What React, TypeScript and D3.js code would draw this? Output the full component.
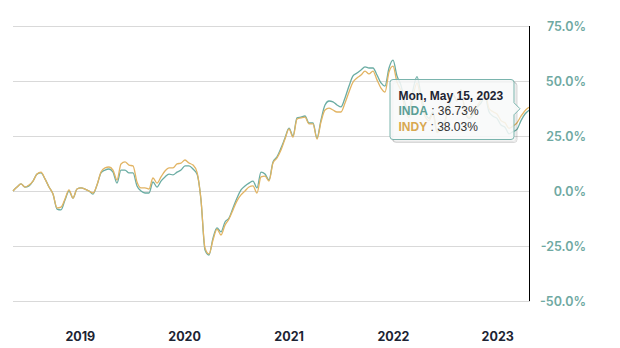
import React from 'react'
import * as d3 from 'd3'

// cumulative % return, sampled every two weeks from the start date
const START = new Date(2018, 5, 4)
const INDA = [
  0, 1.8, 3.2, 1.8, 2.3, 4.5, 7.7, 8.2, 5.5, 1.8,
  -1.4, -8.2, -8.6, -4.1, 0, -3.2, 0.9, 1.4, 0.9, 0,
  -1.4, 2.7, 8.2, 9.5, 10.0, 8.6, 3.6, 9.5, 9.5, 8.2,
  8.2, 2.3, 0, -0.9, -0.9, 4.1, 1.8, 4.5, 6.4, 7.7,
  7.3, 8.6, 9.5, 11.4, 11.4, 10.0, 7.7, -4.1, -26.8, -29.1,
  -21.4, -16.8, -18.6, -14.1, -12.3, -7.7, -3.2, 0.5, 2.3, 3.6,
  4.5, 1.4, 8.6, 7.7, 5.0, 13.2, 15.5, 19.5, 24.1, 28.6,
  25.0, 33.2, 33.6, 34.1, 30.9, 30.9, 24.1, 32.3, 39.1, 40.9,
  40.5, 39.1, 38.2, 42.3, 47.7, 52.3, 53.6, 55.0, 56.4, 55.9,
  55.9, 52.7, 49.1, 47.7, 55.9, 59.5, 52.3, 48, 40, 36,
  46, 52, 44, 36, 33, 36, 27, 29, 32, 39,
  44, 41, 46, 36, 33, 35, 38, 40, 43, 36,
  34, 33, 30, 29, 26, 27, 28, 32, 35, 36.73,
]
const INDY = [
  0, 1.8, 3.2, 1.8, 2.7, 4.5, 7.7, 8.6, 5.5, 1.8,
  -1.4, -7.7, -7.3, -3.6, 0.5, -3.2, 0.9, 1.4, 0.9, 0,
  -0.9, 2.7, 8.6, 10.5, 10.9, 9.5, 5.0, 12.3, 13.2, 11.8,
  11.4, 4.1, 1.4, 1.4, 0.9, 5.9, 3.6, 6.4, 9.1, 10.5,
  10.5, 12.3, 12.7, 14.1, 12.7, 11.8, 8.6, -4.1, -25.9, -28.6,
  -22.3, -17.3, -20.0, -15.5, -12.7, -8.6, -4.5, -1.8, 0, 1.8,
  2.3, -0.9, 6.4, 6.8, 4.5, 12.7, 15.0, 18.6, 23.6, 28.2,
  24.5, 32.7, 33.2, 33.6, 30.5, 30.5, 23.6, 31.4, 36.8, 37.7,
  36.8, 35.9, 35.9, 40.0, 45.0, 49.5, 51.4, 52.7, 54.5, 53.2,
  54.5, 50.5, 46.8, 45.0, 54.1, 56.8, 49.5, 45.5, 37.5, 33.5,
  43, 49, 41.5, 34, 32, 35, 26.5, 28.5, 31.5, 38.5,
  43.5, 41, 46, 36.5, 33.5, 35.5, 38.5, 41.5, 44.5, 37.5,
  36, 35, 32, 31, 28.5, 29.5, 31, 34, 36.5, 38.03,
]
const SERIES = [
  { name: 'INDA', values: INDA, color: '#6aaca3', label: '#5a9f96' },
  { name: 'INDY', values: INDY, color: '#e2b463', label: '#d8a850' },
]
const Y_TICKS = [-50, -25, 0, 25, 50, 75]

const W = 620
const H = 348
const FONT = 'Inter, "Liberation Sans", Arial, sans-serif'
const TIP_FONT = '"Liberation Sans", Arial, Helvetica, sans-serif'

const dates = INDA.map((_, i) => d3.timeDay.offset(START, i * 14))

const x = d3.scaleTime()
  .domain([dates[0], dates[dates.length - 1]])
  .range([13, 529])
const y = d3.scaleLinear()
  .domain([Y_TICKS[0], Y_TICKS[Y_TICKS.length - 1]])
  .range([301, 26])

const pct = d3.formatLocale({
  decimal: '.', thousands: ',', grouping: [3], currency: ['$', ''], minus: '-',
}).format('.1f')
const fmtDate = d3.timeFormat('%a, %b %-d, %Y')

export default function App() {
  const [x0, x1] = x.range()
  const [yMin, yMax] = y.domain()
  const years = x.ticks(d3.timeYear.every(1))
  const last = dates.length - 1
  const lineGen = (vals: number[]) =>
    d3.line<number>()
      .x((_, i) => x(dates[i]))
      .y((v) => y(v))
      .curve(d3.curveMonotoneX)(vals) || ''

  // tooltip anchored at the hovered (last) point
  const ax = x(dates[last])
  const ay = d3.mean(SERIES, (s) => y(s.values[last])) as number
  const boxR = ax - 15
  const boxL = boxR - 124
  const boxT = Math.round(ay - 30) + 0.5
  const boxB = boxT + 60

  return (
    <svg width={W} height={H} style={{ position: 'fixed', left: 0, top: 0, background: '#fff' }}>
      {Y_TICKS.map((t) => (
        <g key={t}>
          <line x1={x0} x2={x1 + 1} y1={Math.round(y(t)) + 0.5} y2={Math.round(y(t)) + 0.5}
            stroke="#d9d9d9" strokeWidth={1} />
          <text x={586} y={y(t)} dy="0.36em" textAnchor="end" fill="#6fa9a2"
            fontFamily={FONT} fontSize={12.5} fontWeight={600}>{pct(t)}%</text>
        </g>
      ))}
      {years.map((d) => (
        <text key={+d} x={x(d) + 7} y={341} textAnchor="middle" fill="#1d2433"
          fontFamily={FONT} fontSize={12.5} fontWeight={700}>{d.getFullYear()}</text>
      ))}
      {SERIES.map((s) => (
        <path key={s.name} d={lineGen(s.values)} fill="none" stroke={s.color}
          strokeWidth={1.3} strokeLinejoin="round" />
      ))}
      <line x1={Math.round(ax) + 0.5} x2={Math.round(ax) + 0.5} y1={y(yMax)} y2={y(yMin)}
        stroke="#000" strokeWidth={1} />
      <g>
        {[3, 2, 1].map((o) => (
          <rect key={o} x={boxL + o} y={boxT + o} width={boxR - boxL} height={boxB - boxT} rx={3}
            fill="none" stroke="#000" strokeOpacity={0.05 * o} strokeWidth={1} />
        ))}
        <path
          d={`M${boxL + 3},${boxT} H${boxR - 3} Q${boxR},${boxT} ${boxR},${boxT + 3}
            V${ay - 6} L${boxR + 6},${ay} L${boxR},${ay + 6}
            V${boxB - 3} Q${boxR},${boxB} ${boxR - 3},${boxB} H${boxL + 3}
            Q${boxL},${boxB} ${boxL},${boxB - 3} V${boxT + 3} Q${boxL},${boxT} ${boxL + 3},${boxT} Z`}
          fill="rgba(248,249,249,0.86)" stroke="#7ab4ad" strokeWidth={1} />
        <text x={boxL + 8.5} y={boxT + 20.5} fontFamily={TIP_FONT} fontSize={12} fontWeight={700}
          fill="#1d2433">{fmtDate(dates[last])}</text>
        {SERIES.map((s, i) => (
          <text key={s.name} x={boxL + 8.5} y={boxT + 35.5 + i * 16} fontFamily={TIP_FONT} fontSize={12}
            fill="#333">
            <tspan fontWeight={700} fill={s.label}>{s.name}</tspan>
            <tspan> : {d3.format('.2f')(s.values[last])}%</tspan>
          </text>
        ))}
      </g>
    </svg>
  )
}
